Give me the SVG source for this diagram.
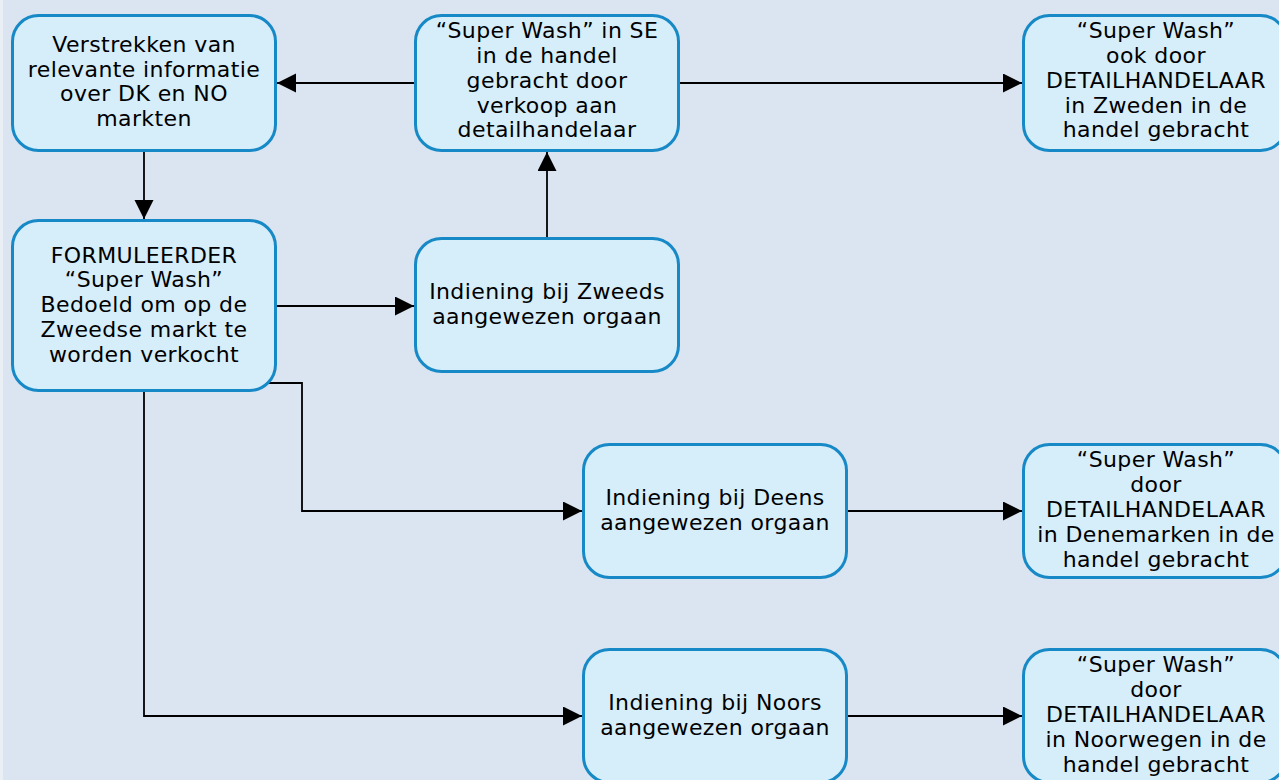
<svg xmlns="http://www.w3.org/2000/svg" width="1279" height="780" viewBox="0 0 1279 780">
<defs>
<marker id="ah" markerUnits="userSpaceOnUse" markerWidth="20" markerHeight="20" refX="19" refY="9.5" orient="auto">
<path d="M0,0 L19,9.5 L0,19 z" fill="#000"/>
</marker>
<style>
.node rect{fill:#d6edfa;stroke:#1689c6;stroke-width:3}
.node text{font-family:"DejaVu Sans",Verdana,sans-serif;font-size:22px;letter-spacing:0.4px;fill:#000;text-anchor:middle}
.conn path{fill:none;stroke:#000;stroke-width:1.8;marker-end:url(#ah)}
</style>
</defs>
<rect x="0" y="0" width="1279" height="780" fill="#dbe5f1"/>
<rect x="0" y="0" width="3" height="780" fill="#eaeff6"/>
<g id="connectors" class="conn">
<path d="M414,83 H277"/>
<path d="M144,152 V219"/>
<path d="M277,306 H414"/>
<path d="M547,237 V152"/>
<path d="M680,83 H1022"/>
<path d="M260,383 H302 V511 H582"/>
<path d="M144,392 V716 H582"/>
<path d="M848,511 H1022"/>
<path d="M848,716 H1022"/>
</g>
<g id="n1" class="node">
<rect x="12.5" y="15.5" width="263" height="135" rx="26"/>
<text x="144" y="52">Verstrekken van</text>
<text x="144" y="76.5">relevante informatie</text>
<text x="144" y="101">over DK en NO</text>
<text x="144" y="126">markten</text>
</g>
<g id="n2" class="node">
<rect x="415.5" y="15.5" width="263" height="135" rx="26"/>
<text x="547" y="38">“Super Wash” in SE</text>
<text x="547" y="63">in de handel</text>
<text x="547" y="87.5">gebracht door</text>
<text x="547" y="112.5">verkoop aan</text>
<text x="547" y="137">detailhandelaar</text>
</g>
<g id="n3" class="node">
<rect x="1023.5" y="15.5" width="263" height="135" rx="26"/>
<text x="1156" y="38">“Super Wash”</text>
<text x="1156" y="63">ook door</text>
<text x="1156" y="88">DETAILHANDELAAR</text>
<text x="1156" y="112.5">in Zweden in de</text>
<text x="1156" y="137">handel gebracht</text>
</g>
<g id="n4" class="node">
<rect x="12.5" y="220.5" width="263" height="170" rx="26"/>
<text x="144" y="262.5">FORMULEERDER</text>
<text x="144" y="287">“Super Wash”</text>
<text x="144" y="311.5">Bedoeld om op de</text>
<text x="144" y="336.5">Zweedse markt te</text>
<text x="144" y="361.5">worden verkocht</text>
</g>
<g id="n5" class="node">
<rect x="415.5" y="238.5" width="263" height="133" rx="26"/>
<text x="547" y="299">Indiening bij Zweeds</text>
<text x="547" y="324">aangewezen orgaan</text>
</g>
<g id="n6" class="node">
<rect x="583.5" y="444.5" width="263" height="133" rx="26"/>
<text x="715" y="505">Indiening bij Deens</text>
<text x="715" y="530">aangewezen orgaan</text>
</g>
<g id="n7" class="node">
<rect x="1023.5" y="444.5" width="263" height="133" rx="26"/>
<text x="1156" y="466.5">“Super Wash”</text>
<text x="1156" y="491.5">door</text>
<text x="1156" y="517">DETAILHANDELAAR</text>
<text x="1156" y="541.5">in Denemarken in de</text>
<text x="1156" y="566.5">handel gebracht</text>
</g>
<g id="n8" class="node">
<rect x="583.5" y="649.5" width="263" height="133" rx="26"/>
<text x="715" y="710">Indiening bij Noors</text>
<text x="715" y="735">aangewezen orgaan</text>
</g>
<g id="n9" class="node">
<rect x="1023.5" y="649.5" width="263" height="133" rx="26"/>
<text x="1156" y="672">“Super Wash”</text>
<text x="1156" y="696.5">door</text>
<text x="1156" y="722">DETAILHANDELAAR</text>
<text x="1156" y="746.5">in Noorwegen in de</text>
<text x="1156" y="771.5">handel gebracht</text>
</g>
</svg>
